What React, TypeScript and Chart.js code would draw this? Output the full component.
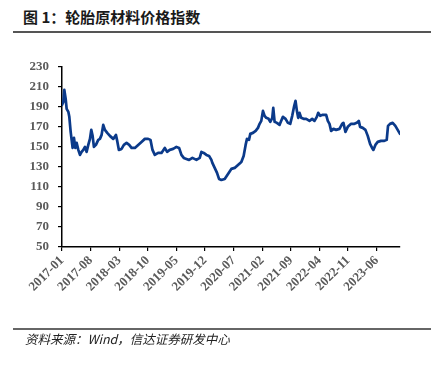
import React, { useEffect, useRef } from "react";
import { Chart, registerables } from "chart.js";

Chart.register(...registerables);

// months elapsed since 2017-01 (fractional) for each observation
const monthsSince2017: number[] = [
  0.0, 0.33, 0.57, 0.9, 1.14, 1.55, 1.79, 2.12, 2.36, 2.6, 2.93, 3.26, 3.58, 3.99, 4.4, 4.8,
  5.21, 5.62, 6.02, 6.43, 6.84, 7.16, 7.49, 7.81, 8.3, 8.87, 9.28, 9.69, 10.09, 10.5, 11.07,
  11.72, 12.54, 13.19, 13.51, 13.92, 14.57, 15.14, 15.79, 16.44, 17.01, 17.83, 18.64, 19.45,
  20.27, 21.08, 21.65, 22.14, 22.71, 23.52, 24.34, 25.15, 25.72, 26.37, 27.19, 28.0, 28.65,
  29.22, 29.79, 30.44, 31.1, 31.91, 32.89, 33.7, 34.11, 34.68, 35.33, 35.98, 36.55, 36.79,
  37.36, 37.93, 38.42, 38.99, 39.81, 40.62, 41.43, 42.25, 43.06, 43.88, 44.44, 44.93, 45.26,
  45.75, 46.07, 46.72, 47.38, 47.95, 48.35, 48.76, 49.17, 49.57, 49.98, 50.55, 50.96, 51.45,
  51.69, 52.02, 52.58, 53.24, 53.64, 54.05, 54.7, 55.27, 55.84, 56.33, 56.82, 57.14, 57.47,
  57.79, 58.12, 58.53, 59.1, 59.75, 60.56, 61.21, 61.78, 62.35, 62.68, 63.17, 63.82, 64.63,
  65.04, 65.45, 65.85, 66.42, 67.07, 67.89, 68.54, 68.86, 69.35, 69.92, 70.74, 71.55, 72.12,
  72.61, 72.94, 73.59, 74.24, 74.81, 75.38, 75.87, 76.19, 76.68, 77.25, 78.06, 78.88, 79.45,
  79.77, 80.26, 80.91, 81.56, 82.13, 82.7,
];

// tyre raw material price index
const indexValues: number[] = [
  192, 195, 207, 198, 188, 185, 180, 165, 157, 149, 159, 149, 154, 147, 142, 145,
  147, 150, 145, 152, 158, 167, 161, 150, 152, 157, 158, 162, 172, 167, 164,
  161, 158, 162, 156, 147, 148, 152, 154, 152, 149, 149, 152, 155,
  158, 158, 157, 147, 142, 144, 144, 149, 145, 147, 148, 150, 149,
  142, 139, 138, 137, 139, 137, 139, 145, 144, 142, 141, 137, 134,
  129, 124, 118, 117, 118, 123, 128, 129, 132, 135, 141, 152, 158,
  157, 163, 164, 166, 169, 173, 176, 186, 181, 179, 178, 175, 179,
  189, 175, 174, 172, 176, 180, 178, 174, 173, 181, 191, 196, 186,
  179, 184, 179, 178, 178, 176, 178, 176, 180, 184, 181, 182, 182,
  176, 173, 166, 168, 167, 168, 173, 174, 165, 170, 173, 173, 174,
  176, 170, 169, 167, 161, 153, 149, 147, 152, 155, 156, 156, 157,
  171, 173, 174, 171, 167, 163,
];

const startYear = 2017;
const tickStepMonths = 7;
const xMax = 82.7;
const yMin = 50;
const yMax = 230;
const yStep = 20;

const titleText = "图 1：轮胎原材料价格指数";
const sourceText = "资料来源：Wind，信达证券研发中心";

function monthLabel(v: number): string {
  const y = startYear + Math.floor(v / 12);
  const m = (v % 12) + 1;
  return `${y}-${m < 10 ? "0" + m : m}`;
}

export default function App() {
  const canvasRef = useRef<HTMLCanvasElement | null>(null);

  useEffect(() => {
    if (!canvasRef.current) return;
    const tickFont = { family: "'Liberation Serif', 'Times New Roman', serif", size: 13, weight: "bold" as const };
    const chart = new Chart(canvasRef.current, {
      type: "line",
      data: {
        datasets: [
          {
            data: monthsSince2017.map((m, i) => ({ x: m, y: indexValues[i] })),
            borderColor: "#0b3a8a",
            borderWidth: 2.7,
            borderJoinStyle: "round",
            borderCapStyle: "round",
            pointRadius: 0,
            tension: 0,
            fill: false,
          },
        ],
      },
      options: {
        animation: false,
        responsive: false,
        maintainAspectRatio: false,
        layout: { padding: { top: 14, right: 31, left: 0, bottom: 0 } },
        plugins: { legend: { display: false }, tooltip: { enabled: false } },
        scales: {
          x: {
            type: "linear",
            min: 0,
            max: xMax,
            afterBuildTicks: (scale: any) => {
              const t: any[] = [];
              for (let v = 0; v <= xMax; v += tickStepMonths) t.push({ value: v });
              scale.ticks = t;
            },
            afterFit: (scale: any) => {
              scale.height = 280 - 197;
            },
            ticks: {
              autoSkip: false,
              minRotation: 45,
              maxRotation: 45,
              padding: 2,
              color: "#5a5a5a",
              font: tickFont,
              callback: (v: any) => monthLabel(Number(v)),
            },
            grid: { drawOnChartArea: false, drawTicks: true, tickLength: 4, color: "#000", lineWidth: 1.2 },
            border: { color: "#000", width: 1.5 },
          },
          y: {
            min: yMin,
            max: yMax,
            afterFit: (scale: any) => {
              scale.width = 62;
            },
            ticks: {
              stepSize: yStep,
              padding: 9,
              color: "#5a5a5a",
              font: tickFont,
            },
            grid: { drawOnChartArea: false, drawTicks: true, tickLength: 4, color: "#000", lineWidth: 1.2 },
            border: { color: "#000", width: 1.5 },
          },
        },
      },
    });
    return () => chart.destroy();
  }, []);

  return (
    <div style={{ position: "absolute", left: 0, top: 0, width: 431, height: 367, background: "#fff", overflow: "hidden" }}>
      <div
        style={{
          position: "absolute",
          left: 23,
          top: 7,
          fontFamily: "'Noto Sans CJK SC', sans-serif",
          fontWeight: 700,
          fontSize: 15,
          lineHeight: "20px",
          color: "#1a1a1a",
          whiteSpace: "nowrap",
        }}
      >
        {titleText}
      </div>
      <div style={{ position: "absolute", left: 13, top: 31, width: 418, height: 2, background: "#555" }} />
      <canvas ref={canvasRef} width={431} height={280} style={{ position: "absolute", left: 0, top: 50, width: 431, height: 280 }} />
      <div style={{ position: "absolute", left: 13, top: 328, width: 418, height: 2, background: "#666" }} />
      <div
        style={{
          position: "absolute",
          left: 25,
          top: 331,
          fontFamily: "'Noto Sans CJK SC', sans-serif",
          fontStyle: "italic",
          fontSize: 12.5,
          lineHeight: "16px",
          color: "#222",
          whiteSpace: "nowrap",
        }}
      >
        {sourceText}
      </div>
    </div>
  );
}
